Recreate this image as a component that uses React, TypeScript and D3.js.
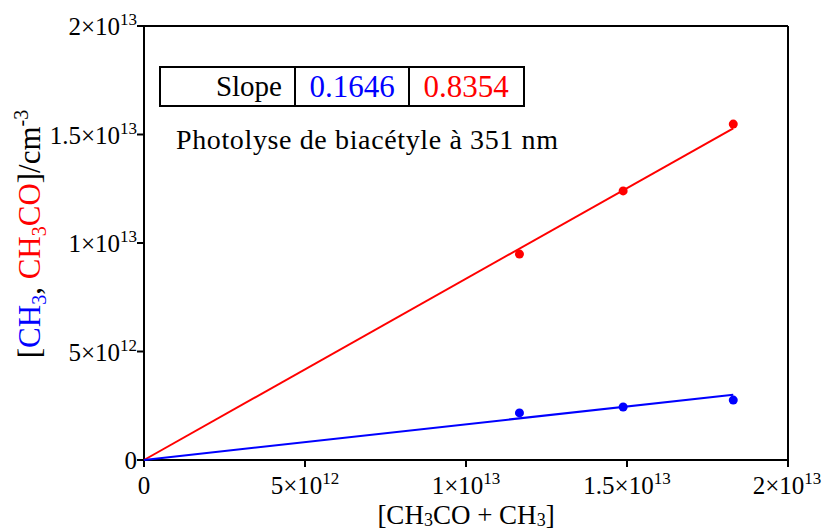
import React from "react";
import * as d3 from "d3";

const xTicks = [0, 5e12, 1e13, 1.5e13, 2e13];
const yTicks = [0, 5e12, 1e13, 1.5e13, 2e13];
const tickMantissa = ["0", "5", "1", "1.5", "2"];
const tickExp = ["", "12", "13", "13", "13"];

const xData = [1.166e13, 1.488e13, 1.83e13];
const ch3Values = [2.17e12, 2.44e12, 2.76e12];
const ch3coValues = [9.49e12, 1.24e13, 1.548e13];
const slopeCH3 = 0.1646;
const slopeCH3CO = 0.8354;
const fitMax = 1.83e13;

const W = 824, H = 529;
const M = { left: 144, right: 788, top: 26, bottom: 460 };
const FONT = "Liberation Serif, Times New Roman, serif";

function TickLabel({ i, x, y, anchor }: { i: number; x: number; y: number; anchor: string }) {
  if (tickExp[i] === "") {
    return (
      <text x={x} y={y} textAnchor={anchor} fontSize={25} fontFamily={FONT} fill="#000">
        {tickMantissa[i]}
      </text>
    );
  }
  return (
    <text x={x} y={y} textAnchor={anchor} fontSize={25} fontFamily={FONT} fill="#000">
      {tickMantissa[i]}×10
      <tspan fontSize={17} dy={-10}>{tickExp[i]}</tspan>
    </text>
  );
}

export default function App() {
  const x = d3.scaleLinear().domain([0, 2e13]).range([M.left, M.right]);
  const y = d3.scaleLinear().domain([0, 2e13]).range([M.bottom, M.top]);
  const fitX = [0, fitMax];
  const fitLine = (slope: number) =>
    d3
      .line<number>()
      .x((d) => x(d))
      .y((d) => y(d * slope))(fitX) as string;

  return (
    <svg width={W} height={H} style={{ position: "absolute", left: 0, top: 0, background: "#fff" }}>
      <rect x={0} y={0} width={W} height={H} fill="#fff" />
      {/* box */}
      <line x1={M.left} x2={M.right} y1={M.top} y2={M.top} stroke="#000" strokeWidth={2} />
      <line x1={M.right} x2={M.right} y1={M.top} y2={M.bottom} stroke="#000" strokeWidth={2} />
      <line x1={M.left} x2={M.left} y1={M.top} y2={M.bottom + 1} stroke="#000" strokeWidth={2} />
      <line x1={M.left - 1} x2={M.right + 1} y1={M.bottom} y2={M.bottom} stroke="#000" strokeWidth={2} />

      {/* y ticks */}
      {yTicks.map((t, i) => (
        <g key={"y" + i}>
          <line x1={M.left - 7} x2={M.left} y1={y(t)} y2={y(t)} stroke="#000" strokeWidth={2} />
          <TickLabel i={i} x={M.left - 7} y={y(t) + 9} anchor="end" />
        </g>
      ))}
      {/* x ticks */}
      {xTicks.map((t, i) => (
        <g key={"x" + i}>
          <line x1={x(t)} x2={x(t)} y1={M.bottom} y2={M.bottom + 7} stroke="#000" strokeWidth={2} />
          <TickLabel i={i} x={x(t) - (i === xTicks.length - 1 ? 1 : 0)} y={M.bottom + 34} anchor="middle" />
        </g>
      ))}

      {/* fit lines */}
      <path d={fitLine(slopeCH3CO)} stroke="#ff0000" strokeWidth={2} fill="none" />
      <path d={fitLine(slopeCH3)} stroke="#0000ff" strokeWidth={2} fill="none" />

      {/* points */}
      {xData.map((v, i) => (
        <circle key={"r" + i} cx={x(v)} cy={y(ch3coValues[i])} r={4.5} fill="#ff0000" />
      ))}
      {xData.map((v, i) => (
        <circle key={"b" + i} cx={x(v)} cy={y(ch3Values[i])} r={4.5} fill="#0000ff" />
      ))}

      {/* slope table */}
      <g>
        <rect x={160} y={67} width={364} height={39} fill="#fff" stroke="#000" strokeWidth={2} />
        <line x1={295} x2={295} y1={67} y2={106} stroke="#000" strokeWidth={2} />
        <line x1={409} x2={409} y1={67} y2={106} stroke="#000" strokeWidth={2} />
        <text x={282} y={96} textAnchor="end" fontSize={29} fontFamily={FONT} fill="#000">Slope</text>
        <text x={352} y={97} textAnchor="middle" fontSize={31} fontFamily={FONT} fill="#0000ff">{slopeCH3.toFixed(4)}</text>
        <text x={466} y={97} textAnchor="middle" fontSize={31} fontFamily={FONT} fill="#ff0000">{slopeCH3CO.toFixed(4)}</text>
      </g>
      <text x={176} y={149} fontSize={28} fontFamily={FONT} fill="#000" textLength={382} lengthAdjust="spacing">
        Photolyse de biacétyle à 351 nm
      </text>

      {/* x title */}
      <text x={466} y={524} textAnchor="middle" fontSize={27} fontFamily={FONT} fill="#000">
        [CH<tspan fontSize={18} dy={2}>3</tspan><tspan dy={-2}>CO + CH</tspan><tspan fontSize={18} dy={2}>3</tspan><tspan dy={-2}>]</tspan>
      </text>

      {/* y title */}
      <text transform="translate(40,234) rotate(-90)" textAnchor="middle" fontSize={31} fontFamily={FONT} fill="#000">
        [<tspan fill="#0000ff">CH</tspan><tspan fill="#0000ff" fontSize={20} dy={6}>3</tspan><tspan dy={-6}>, </tspan><tspan fill="#ff0000">CH</tspan><tspan fill="#ff0000" fontSize={20} dy={6}>3</tspan><tspan fill="#ff0000" dy={-6}>CO</tspan>]/cm<tspan fontSize={20} dy={-12}>-3</tspan>
      </text>
    </svg>
  );
}
